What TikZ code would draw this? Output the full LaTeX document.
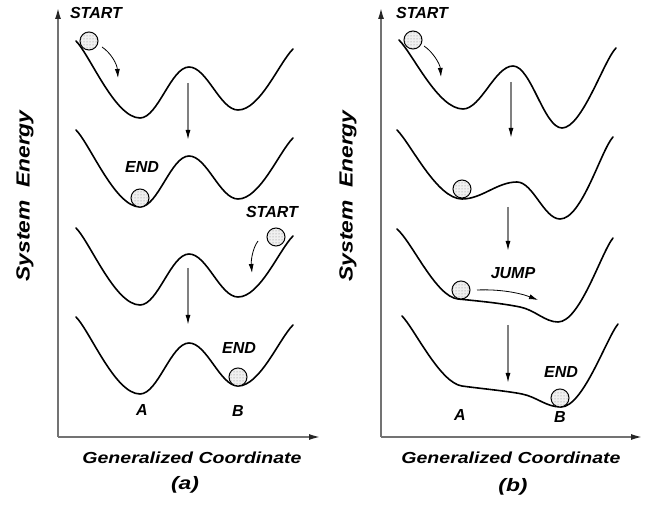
\documentclass[tikz,border=0pt]{standalone}
\usepackage{fontspec}
\setmainfont{Liberation Sans}
\usetikzlibrary{arrows.meta, patterns}

\begin{document}
\begin{tikzpicture}[
    x=1pt, y=-1pt,
    axis/.style    = {line width=1.4pt, black!55,
                      -{Latex[length=11pt, width=6pt, color=black!85]}},
    well/.style    = {line width=1.6pt, black, line cap=round},
    drop/.style    = {line width=1.3pt, black!50,
                      -{Latex[length=10pt, width=5pt, color=black]}},
    roll/.style    = {line width=0.8pt, black, -{Latex[length=9pt, width=5pt]}},
    ball/.style    = {line width=1pt, draw=black, fill=black!6,
                      postaction={pattern=dots, pattern color=black!50}},
    tag/.style     = {font=\fontsize{16}{18}\selectfont\bfseries\itshape},
    axlabel/.style = {font=\fontsize{16}{18}\selectfont\bfseries\itshape,
                      xscale=1.22},
    ylabel/.style  = {font=\fontsize{19}{21}\selectfont\bfseries\itshape,
                      rotate=90, xscale=1.2},
    panel/.style   = {font=\fontsize{18}{20}\selectfont\bfseries\itshape,
                      xscale=1.27},
  ]
  \useasboundingbox (0,0) rectangle (651,510);

  % =========================================================================
  % (a) two wells of equal shape, the ball stays where it starts
  % =========================================================================

  % --- axes ----------------------------------------------------------------
  \coordinate (oa) at (58,437);
  \draw[axis] (oa) -- ++(0,-429);
  \draw[axis] (oa) -- ++(262,0);
  \node[ylabel]  (ylabA) at (25,196)  {System\ \ Energy};
  \node[axlabel] (xlabA) at (192,458) {Generalized Coordinate};
  \node[panel]   (capA)  at (185,485) {(a)};

  % --- the four energy curves, one above the other ----------------------
  \foreach \s in {41, 130, 228, 317} {
    \draw[well] (76,\s) .. controls (90,\s+14) and (115,\s+77) .. (140,\s+77)
      .. controls (158,\s+77) and (171,\s+26) .. (189,\s+26)
      .. controls (207,\s+26) and (220,\s+69) .. (238,\s+69)
      .. controls (260,\s+69) and (279,\s+22) .. (293,\s+8);
  }

  % --- balls and their paths -------------------------------------------
  \draw[ball] (89,41)  circle[radius=9];
  \draw[ball] (140,198) circle[radius=9];
  \draw[ball] (276,237) circle[radius=9];
  \draw[ball] (238,377) circle[radius=9];

  \draw[roll] (102,47) .. controls (111,53) and (117,64) .. (118,78);
  \draw[roll] (258,241) .. controls (252,249) and (251,262) .. (252,273);
  \draw[drop] (188,83)  -- (188,140);
  \draw[drop] (188,268) -- (188,325);

  \node[tag] (startA1) at (96,13)   {START};
  \node[tag] (endA2)   at (142,167) {END};
  \node[tag] (startA3) at (272,212) {START};
  \node[tag] (endA4)   at (239,348) {END};
  \node[tag] (wellA)   at (142,410) {A};
  \node[tag] (wellB)   at (238,411) {B};

  % =========================================================================
  % (b) the barrier sinks until the ball jumps over to B
  % =========================================================================

  % --- axes ----------------------------------------------------------------
  \coordinate (ob) at (381,437);
  \draw[axis] (ob) -- ++(0,-429);
  \draw[axis] (ob) -- ++(261,0);
  \node[ylabel]  (ylabB) at (348,196) {System\ \ Energy};
  \node[axlabel] (xlabB) at (511,458) {Generalized Coordinate};
  \node[panel]   (capB)  at (513,487) {(b)};

  % --- energy curves -------------------------------------------------------
  \draw[well] (399,40) .. controls (413,54) and (438,109) .. (463,109)
    .. controls (481,109) and (495,66) .. (513,66)
    .. controls (531,66) and (544,128) .. (562,128)
    .. controls (582,128) and (604,60) .. (616,48);
  \draw[well] (397,130) .. controls (411,144) and (437,199) .. (462,199)
    .. controls (482,199) and (497,182) .. (517,182)
    .. controls (533,182) and (544,219) .. (560,219)
    .. controls (582,219) and (601,150) .. (613,137);
  \draw[well] (397,229) .. controls (412,242) and (436,297) .. (458,299)
    .. controls (478,301) and (500,303) .. (520,307)
    .. controls (535,310) and (545,322) .. (558,322)
    .. controls (580,322) and (601,253) .. (613,238);
  \draw[well] (402,316) .. controls (414,328) and (440,383) .. (462,386)
    .. controls (480,388.5) and (507,391) .. (522,394)
    .. controls (537,397) and (546,407) .. (561,407)
    .. controls (583,407) and (606,339) .. (618,324);

  % --- balls and their paths -------------------------------------------
  \draw[ball] (413,40)  circle[radius=9];
  \draw[ball] (462,189) circle[radius=9];
  \draw[ball] (461,290) circle[radius=9];
  \draw[ball] (560,398) circle[radius=9];

  \draw[roll] (424,46) .. controls (433,52) and (440,64) .. (441,77);
  \draw[roll] (477,290) .. controls (500,289) and (520,293) .. (538,300);
  \draw[drop] (511,82)  -- (511,138);
  \draw[drop] (508,207) -- (508,251);
  \draw[drop] (508,325) -- (508,383);

  \node[tag] (startB1) at (422,13)  {START};
  \node[tag] (jumpB3)  at (513,273) {JUMP};
  \node[tag] (endB4)   at (561,372) {END};
  \node[tag] (wellA2)  at (460,415) {A};
  \node[tag] (wellB2)  at (560,417) {B};

\end{tikzpicture}
\end{document}
